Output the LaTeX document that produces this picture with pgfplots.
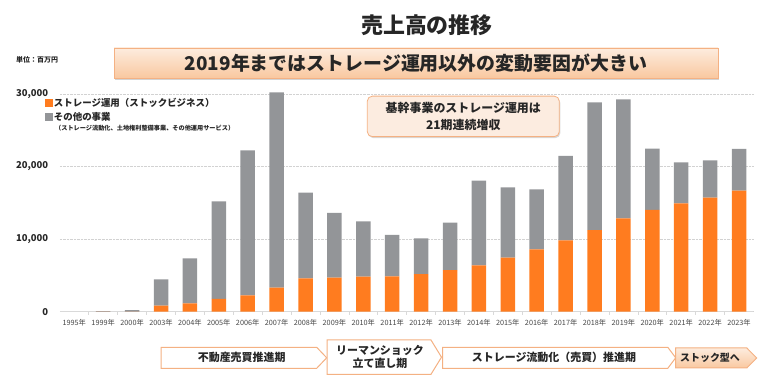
\documentclass[border=0pt]{standalone}
\usepackage{pgfplots}
\usepackage{pgfplotstable}
\pgfplotsset{compat=1.18}
\usetikzlibrary{shadows}
\usepackage{fontspec}
\setmainfont{Noto Sans CJK JP}
\definecolor{barorange}{RGB}{255,124,31}
\definecolor{bargray}{RGB}{147,149,152}
\definecolor{textdark}{RGB}{38,38,38}
\definecolor{ticktext}{RGB}{70,70,70}
\definecolor{boxborder}{RGB}{244,177,131}
\definecolor{peach}{RGB}{252,236,224}
\definecolor{subtop}{RGB}{253,236,222}
\definecolor{subbot}{RGB}{249,200,160}
\pgfplotstableread{
x stor other
0 0 0
1 10 60
2 20 200
3 830 3630
4 1150 6200
5 1750 13450
6 2250 19980
7 3310 26910
8 4600 11800
9 4690 8910
10 4830 7620
11 4870 5695
12 5190 4920
13 5740 6520
14 6390 11650
15 7440 9690
16 8590 8270
17 9830 11620
18 11250 17590
19 12860 16390
20 14010 8440
21 14930 5650
22 15700 5150
23 16670 5740
}\datatable
\begin{document}
\begin{tikzpicture}
\useasboundingbox (0,0) rectangle (768bp,385bp);
\begin{axis}[
  at={(59.85bp,73.3bp)}, anchor=south west,
  scale only axis, width=693.6bp, height=219.98bp,
  xmin=-0.5, xmax=23.5, ymin=0, ymax=30300,
  ybar stacked, bar width=14.5bp,
  axis x line*=bottom, axis y line*=left,
  y axis line style={draw=none},
  x axis line style={draw=gray!30, line width=0.6bp},
  ytick={0,10000,20000,30000},
  ymajorgrids, grid style={densely dotted, draw=gray!35, line width=0.6bp},
  major tick length=0pt,
  minor x tick num=1, minor tick length=3bp, tick align=outside,
  x tick style={draw=gray!30, line width=0.6bp},
  scaled y ticks=false,
  /pgf/number format/1000 sep={,},
  /pgf/number format/assume math mode=true,
  yticklabel style={font=\bfseries\fontsize{9.5}{10}\selectfont, text=textdark, anchor=east, inner sep=0pt, xshift=-11.5bp},
  xtick=data,
  xticklabels={1995年,1999年,2000年,2003年,2004年,2005年,2006年,2007年,2008年,2009年,2010年,2011年,2012年,2013年,2014年,2015年,2016年,2017年,2018年,2019年,2020年,2021年,2022年,2023年},
  xticklabel style={font=\fontsize{7.3}{8}\selectfont, text=ticktext, anchor=north, inner sep=0pt, yshift=-7bp},
  legend style={at={(-0.0213,0.976)}, anchor=north west, draw=none, fill=none, inner sep=0pt, outer sep=0pt,
    font=\bfseries\fontsize{9.5}{10}\selectfont, text=textdark, row sep=2bp, nodes={inner sep=1.2bp}},
  legend cell align=left,
  legend image code/.code={\fill[#1] (0bp,-3.8bp) rectangle (7.6bp,3.8bp);},
]
\addplot[fill=barorange, draw=none] table[x=x,y=stor]{\datatable};
\addplot[fill=bargray, draw=none] table[x=x,y=other]{\datatable};
\legend{ストレージ運用（ストックビジネス）,その他の事業}
\end{axis}
\begin{scope}[x=1bp,y=-1bp,shift={(0bp,385bp)}]
  \node[font=\bfseries\fontsize{22}{24}\selectfont, text=textdark] at (427,25) {売上高の推移};
  \draw[draw=boxborder, line width=0.8bp, top color=subtop, bottom color=subbot,
        drop shadow={shadow xshift=1bp, shadow yshift=-2bp, opacity=0.35}] (114,48) rectangle (718,78);
  \node[font=\bfseries\fontsize{19}{20}\selectfont, text=textdark] at (416,63) {2019年まではストレージ運用以外の変動要因が大きい};
  \node[anchor=west, font=\bfseries\fontsize{7}{8}\selectfont, text=textdark, inner sep=0pt] at (16,60) {単位：百万円};
  \node[anchor=west, font=\bfseries\fontsize{6.2}{7}\selectfont, text=textdark, inner sep=0pt] at (55,127.7) {（ストレージ流動化、土地権利整備事業、その他運用サービス）};
  \node[draw=boxborder, fill=peach, rounded corners=5bp, line width=0.8bp, minimum width=192bp, minimum height=40.5bp,
        align=center, font=\bfseries\fontsize{12}{16.6}\selectfont, text=textdark,
        drop shadow={shadow xshift=1bp, shadow yshift=-1.5bp, opacity=0.3}] at (463.3,116.4) {基幹事業のストレージ運用は\\21期連続増収};
  % phase arrows
  \draw[boxborder, line width=1bp, fill=white] (161,347.3) -- (316.7,347.3) -- (326.7,357.8) -- (316.7,368.3) -- (161,368.3) -- cycle;
  \node[font=\bfseries\fontsize{11}{12}\selectfont, text=textdark] at (241.7,357.8) {不動産売買推進期};
  \draw[boxborder, line width=1bp, fill=white] (327,340) -- (431,340) -- (441.5,357.2) -- (431,374.3) -- (327,374.3) -- cycle;
  \node[font=\bfseries\fontsize{11}{13.3}\selectfont, text=textdark, align=center] at (380,356.7) {リーマンショック\\立て直し期};
  \draw[boxborder, line width=1bp, fill=white] (442.5,347.3) -- (667.8,347.3) -- (675.7,357.8) -- (667.8,368.3) -- (442.5,368.3) -- cycle;
  \node[font=\bfseries\fontsize{11}{12}\selectfont, text=textdark] at (554,357.8) {ストレージ流動化（売買）推進期};
  \draw[boxborder, line width=1bp, top color=subtop, bottom color=subbot] (675.7,348) -- (746.8,348) -- (756.7,358) -- (746.8,368) -- (675.7,368) -- cycle;
  \node[font=\bfseries\fontsize{10}{11}\selectfont, text=textdark] at (710,358) {ストック型へ};
\end{scope}
\end{tikzpicture}
\end{document}
